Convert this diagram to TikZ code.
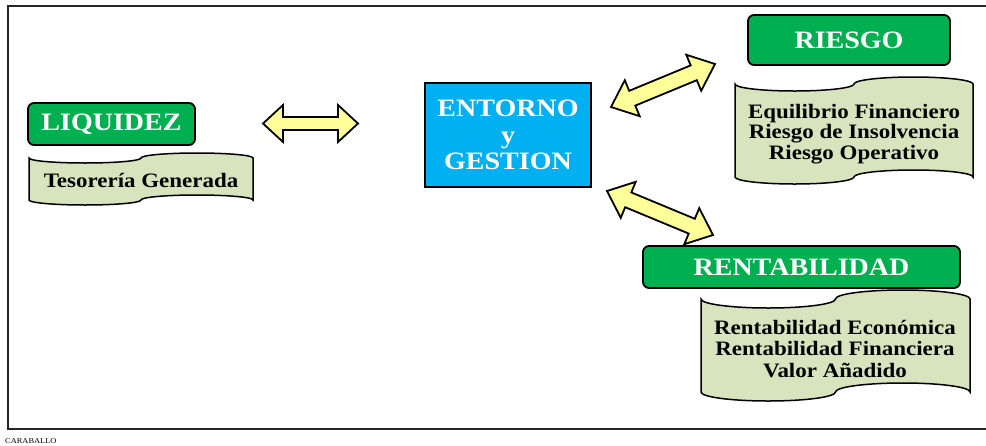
\documentclass[tikz,border=0pt]{standalone}
\usepackage{fontspec}
\setmainfont{Liberation Serif}[FakeStretch=1.12]
\usetikzlibrary{calc}
\definecolor{grn}{HTML}{00B050}
\definecolor{cyanb}{HTML}{00B0F0}
\definecolor{tapefill}{HTML}{D7E4BD}
\definecolor{arrfill}{HTML}{FFFF99}
% #1,#2 end coordinates; #3 head length; #4 head half width; #5 shaft half width
\newcommand\dblarr[5]{%
  \draw[arrowst] (#1)
    -- ($(#1)!#3pt!(#2)!#4pt!90:(#2)$)
    -- ($(#1)!#3pt!(#2)!#5pt!90:(#2)$)
    -- ($(#2)!#3pt!(#1)!#5pt!-90:(#1)$)
    -- ($(#2)!#3pt!(#1)!#4pt!-90:(#1)$)
    -- (#2)
    -- ($(#2)!#3pt!(#1)!#4pt!90:(#1)$)
    -- ($(#2)!#3pt!(#1)!#5pt!90:(#1)$)
    -- ($(#1)!#3pt!(#2)!#5pt!-90:(#2)$)
    -- ($(#1)!#3pt!(#2)!#4pt!-90:(#2)$)
    -- cycle;}
\newcommand\tapeshape[5]{%
  \pgfmathsetmacro\tq{(#3-#1)/4}%
  \draw[tapest] (#1,#2)
    arc[start angle=180,end angle=360,x radius=\tq pt,y radius=#5pt]
    arc[start angle=180,end angle=0,x radius=\tq pt,y radius=#5pt]
    -- (#3,#4)
    arc[start angle=0,end angle=180,x radius=\tq pt,y radius=#5pt]
    arc[start angle=0,end angle=-180,x radius=\tq pt,y radius=#5pt]
    -- cycle;}
\begin{document}
\begin{tikzpicture}[x=1pt,y=-1pt,
  titlebox/.style={draw=black, line width=1.8pt, fill=grn, rounded corners=6pt,
    text=white, font=\bfseries\fontsize{25}{26}\selectfont, inner sep=0pt},
  tapest/.style={draw=black, line width=1.5pt, fill=tapefill},
  tapetext/.style={font=\bfseries\fontsize{20.5}{20.5}\selectfont, align=center, inner sep=0pt},
  arrowst/.style={draw=black, line width=1.8pt, fill=arrfill, line join=miter},
  centerbox/.style={draw=black, line width=1.8pt, fill=cyanb, text=white,
    font=\bfseries\fontsize{25}{26.5}\selectfont, align=center, inner sep=0pt}]
\useasboundingbox (0,0) rectangle (986,445);
% frame
\draw[line width=2pt, black!85] (1000,6) -- (8,6) -- (8,429) -- (1000,429);
\node[anchor=base west, inner sep=0pt, font=\fontsize{7.5}{8}\selectfont] (cab) at (5,443.5) {CARABALLO};
% arrows
\coordinate (l1) at (263,123.5); \coordinate (l2) at (358,123.5);
\coordinate (u1) at (611,107); \coordinate (u2) at (715,64);
\coordinate (d1) at (607,191); \coordinate (d2) at (713,235);
\dblarr{l1}{l2}{20}{18.5}{6.5}
\dblarr{u1}{u2}{23}{19.5}{8}
\dblarr{d1}{d2}{23}{19.5}{8}
% center
\node[centerbox, minimum width=166pt, minimum height=104pt] (ent) at (508,135)
  {ENTORNO\\y\\GESTION};
% liquidez
\node[titlebox, minimum width=167pt, minimum height=42pt] (liq) at (111.5,124) {LIQUIDEZ};
\tapeshape{29}{158}{253}{200}{5}
\node[tapetext] (tes) at (141,180) {Tesorería Generada};
% riesgo
\node[titlebox, minimum width=202pt, minimum height=50pt] (rie) at (849,40) {RIESGO};
\tapeshape{735}{84}{973}{177}{7}
\node[tapetext] (riet) at (854,134) {Equilibrio Financiero\\Riesgo de Insolvencia\\Riesgo Operativo};
% rentabilidad
\node[titlebox, minimum width=317pt, minimum height=42pt] (ren) at (801.5,267) {RENTABILIDAD};
\tapeshape{701}{299}{970}{392}{9}
\node[tapetext, font=\bfseries\fontsize{20.5}{21.5}\selectfont] (rent) at (835,349) {Rentabilidad Económica\\Rentabilidad Financiera\\Valor Añadido};
\end{tikzpicture}
\end{document}
